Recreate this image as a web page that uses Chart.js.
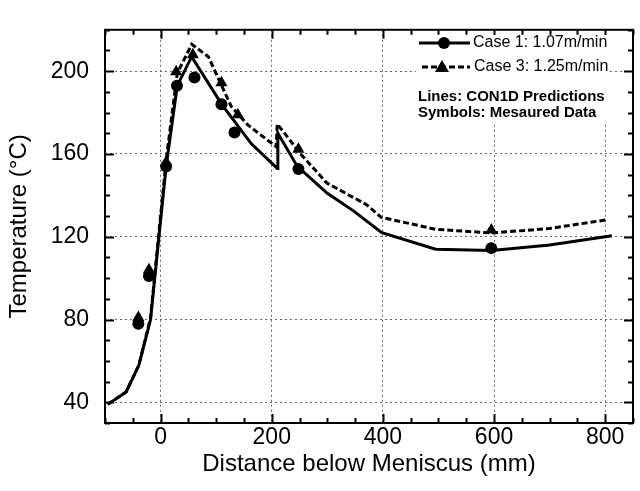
<!DOCTYPE html>
<html lang="en">
<head>
<meta charset="UTF-8">
<title>Temperature below Meniscus</title>
<style>
  html, body { margin: 0; padding: 0; background: #fff; }
  #wrap { width: 640px; height: 491px; }
</style>
</head>
<body>
<div id="wrap"><canvas id="chart" width="640" height="491"></canvas></div>

<script src="https://cdn.jsdelivr.net/npm/chart.js"></script>
<script>
// CON1D predictions (lines)
const case1LineX = [-95, -62, -39, -18, -3, 10, 30, 56, 110, 163, 210, 211, 246, 300, 347, 398, 495, 596, 700, 812];
const case1LineT = [39, 45, 58, 80, 120, 154, 193, 207, 184, 165, 153, 170, 154, 141, 132.5, 122, 114, 113.4, 116, 120.5];
const case3LineX = [-95, -62, -39, -18, -3, 10, 30, 56, 86, 127, 157, 208, 210, 252, 299, 370, 397, 495, 596, 700, 803];
const case3LineT = [39, 45, 58, 81, 122, 157, 199, 213, 207, 183, 174, 163.5, 174.5, 160, 146, 135.6, 129.4, 123.6, 121.8, 124, 128.2];

// measured data (symbols)
const case1MeasX = [-40, -21, 10, 29.5, 61, 109.5, 133, 248, 595];
const case1MeasT = [78, 101, 154, 193, 197, 184, 170.4, 152.7, 114.5];
const case3MeasX = [-40, -21, 10, 28, 58, 109.5, 139, 248, 595];
const case3MeasT = [81, 104, 156, 199.7, 208, 194.4, 179, 162.3, 123.3];

const xTicks = [0, 200, 400, 600, 800];
const yTicks = [40, 80, 120, 160, 200];

const legendLabels = ['Case 1: 1.07m/min', 'Case 3: 1.25m/min'];
const noteLines = ['Lines: CON1D Predictions', 'Symbols: Mesaured Data'];

const FONT = '"Liberation Sans", Arial, Helvetica, sans-serif';

function pts(xs, ys) {
    return xs.map((x, i) => ({ x: x, y: ys[i] }));
}

// box, inward ticks on all four sides
const framePlugin = {
    id: 'frame',
    afterDatasetsDraw(chart) {
        const ctx = chart.ctx;
        const a = chart.chartArea;
        const xs = chart.scales.x, ys = chart.scales.y;
        ctx.save();
        ctx.strokeStyle = '#000';
        ctx.lineWidth = 2;
        ctx.strokeRect(a.left, a.top, a.right - a.left, a.bottom - a.top);
        ctx.beginPath();
        for (let v = -100; v <= 850; v += 50) {
            const px = Math.round(xs.getPixelForValue(v)) + 0.5;
            const len = v % 200 === 0 ? 9 : 5;
            ctx.moveTo(px, a.bottom); ctx.lineTo(px, a.bottom - len);
            ctx.moveTo(px, a.top); ctx.lineTo(px, a.top + len);
        }
        for (let v = 30; v <= 220; v += 10) {
            const py = Math.round(ys.getPixelForValue(v)) + 0.5;
            const len = v % 40 === 0 ? 9 : 5;
            ctx.moveTo(a.left, py); ctx.lineTo(a.left + len, py);
            ctx.moveTo(a.right, py); ctx.lineTo(a.right - len, py);
        }
        ctx.stroke();
        ctx.restore();
    }
};

const legendPlugin = {
    id: 'boxLegend',
    afterDraw(chart) {
        const ctx = chart.ctx;
        ctx.save();
        ctx.fillStyle = '#fff';
        ctx.fillRect(416, 35, 193, 88);

        ctx.strokeStyle = '#000';
        ctx.fillStyle = '#000';
        ctx.lineWidth = 3;
        // case 1: solid line + circle
        ctx.beginPath();
        ctx.moveTo(419, 43); ctx.lineTo(470, 43);
        ctx.stroke();
        ctx.beginPath();
        ctx.arc(444, 43, 6, 0, Math.PI * 2);
        ctx.fill();
        // case 3: dashed line + triangle
        ctx.setLineDash([6, 3]);
        ctx.beginPath();
        ctx.moveTo(422, 67); ctx.lineTo(470, 67);
        ctx.stroke();
        ctx.setLineDash([]);
        ctx.beginPath();
        ctx.moveTo(442, 60); ctx.lineTo(449, 72); ctx.lineTo(435, 72);
        ctx.closePath();
        ctx.fill();

        ctx.textBaseline = 'middle';
        ctx.textAlign = 'left';
        ctx.font = '16px ' + FONT;
        ctx.fillText(legendLabels[0], 473, 43);
        ctx.fillText(legendLabels[1], 474, 67);
        ctx.font = 'bold 15px ' + FONT;
        ctx.fillText(noteLines[0], 418, 97);
        ctx.fillText(noteLines[1], 418, 113);
        ctx.restore();
    }
};

const ctx = document.getElementById('chart').getContext('2d');

new Chart(ctx, {
    type: 'scatter',
    data: {
        datasets: [
            {
                label: 'Case 1 CON1D',
                data: pts(case1LineX, case1LineT),
                showLine: true,
                borderColor: '#000',
                borderWidth: 3,
                pointRadius: 0,
                order: 1
            },
            {
                label: 'Case 3 CON1D',
                data: pts(case3LineX, case3LineT),
                showLine: true,
                borderColor: '#000',
                borderWidth: 3,
                borderDash: [6, 3],
                pointRadius: 0,
                order: 1
            },
            {
                label: 'Case 1 measured',
                data: pts(case1MeasX, case1MeasT),
                pointStyle: 'circle',
                pointRadius: 6,
                backgroundColor: '#000',
                borderColor: '#000',
                borderWidth: 0,
                order: 0
            },
            {
                label: 'Case 3 measured',
                data: pts(case3MeasX, case3MeasT),
                pointStyle: 'triangle',
                pointRadius: 7,
                backgroundColor: '#000',
                borderColor: '#000',
                borderWidth: 0,
                order: 0
            }
        ]
    },
    options: {
        responsive: false,
        devicePixelRatio: 1,
        animation: false,
        layout: { padding: { top: 10, right: 1, left: 0, bottom: 0 } },
        plugins: {
            legend: { display: false },
            tooltip: { enabled: false }
        },
        scales: {
            x: {
                type: 'linear',
                min: -100,
                max: 850,
                afterBuildTicks: s => { s.ticks = xTicks.map(v => ({ value: v })); },
                afterFit: s => { s.height = 68; },
                grid: { color: '#666', lineWidth: 1, drawTicks: false },
                border: { display: false, dash: [2, 3] },
                ticks: { color: '#000', padding: 1, maxRotation: 0, font: { family: FONT, size: 23 } },
                title: {
                    display: true,
                    text: 'Distance below Meniscus (mm)',
                    color: '#000',
                    font: { family: FONT, size: 24 },
                    padding: { top: 0, bottom: 12 }
                }
            },
            y: {
                type: 'linear',
                min: 30,
                max: 220,
                afterBuildTicks: s => { s.ticks = yTicks.map(v => ({ value: v })); },
                afterFit: s => { s.width = 105; },
                grid: { color: '#666', lineWidth: 1, drawTicks: false },
                border: { display: false, dash: [2, 3] },
                ticks: { color: '#000', padding: 16, font: { family: FONT, size: 23 } },
                title: {
                    display: true,
                    text: 'Temperature (°C)',
                    color: '#000',
                    font: { family: FONT, size: 24 },
                    padding: { top: 5, bottom: 0 }
                }
            }
        }
    },
    plugins: [framePlugin, legendPlugin]
});
</script>
</body>
</html>
